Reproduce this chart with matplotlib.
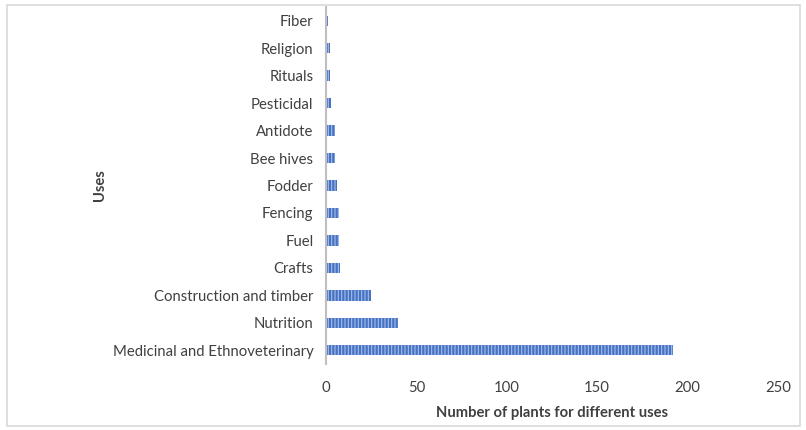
import matplotlib.pyplot as plt
from matplotlib.patches import Rectangle

plt.rcParams['font.family'] = ['Lato', 'DejaVu Sans']
plt.rcParams['hatch.color'] = '#a9bfe8'
plt.rcParams['hatch.linewidth'] = 0.8

uses = ["Medicinal and Ethnoveterinary", "Nutrition", "Construction and timber",
        "Crafts", "Fuel", "Fencing", "Fodder", "Bee hives", "Antidote",
        "Pesticidal", "Rituals", "Religion", "Fiber"]
counts = [192, 40, 25, 8, 7, 7, 6, 5, 5, 3, 2, 2, 1]
x_ticks = [0, 50, 100, 150, 200, 250]

fig = plt.figure(figsize=(8.06, 4.30), dpi=100)
ax = fig.add_axes([326 / 806, 1 - 364 / 430, (778 - 326) / 806, 357 / 430])

ax.barh(uses, counts, height=0.38, color='#4472C4', edgecolor='#a9bfe8',
        linewidth=0, hatch='|||||')

ax.set_xlim(0, 250)
ax.set_ylim(-0.5, len(uses) - 0.5)
ax.set_xticks(x_ticks)

for side in ['top', 'right', 'bottom']:
    ax.spines[side].set_visible(False)
ax.spines['left'].set_color('#bfbfbf')
ax.spines['left'].set_linewidth(1.5)

ax.tick_params(axis='both', length=0, labelsize=10.7, colors='#404040')
ax.tick_params(axis='x', pad=12)
ax.tick_params(axis='y', pad=9)

ax.set_xlabel("Number of plants for different uses", fontsize=10.6, fontweight='bold',
              color='#404040', labelpad=8)
fig.text(100 / 806, 1 - 185 / 430, "Uses", rotation=90, fontsize=10.6, fontweight='bold',
         color='#404040', ha='center', va='center')

# рамка навколо рисунка
fig.patches.append(Rectangle((7 / 806, 4 / 430), 793 / 806, 421 / 430, transform=fig.transFigure,
                             fill=False, edgecolor='#d9d9d9', linewidth=1.2))

fig.savefig("out.png", dpi=100)
